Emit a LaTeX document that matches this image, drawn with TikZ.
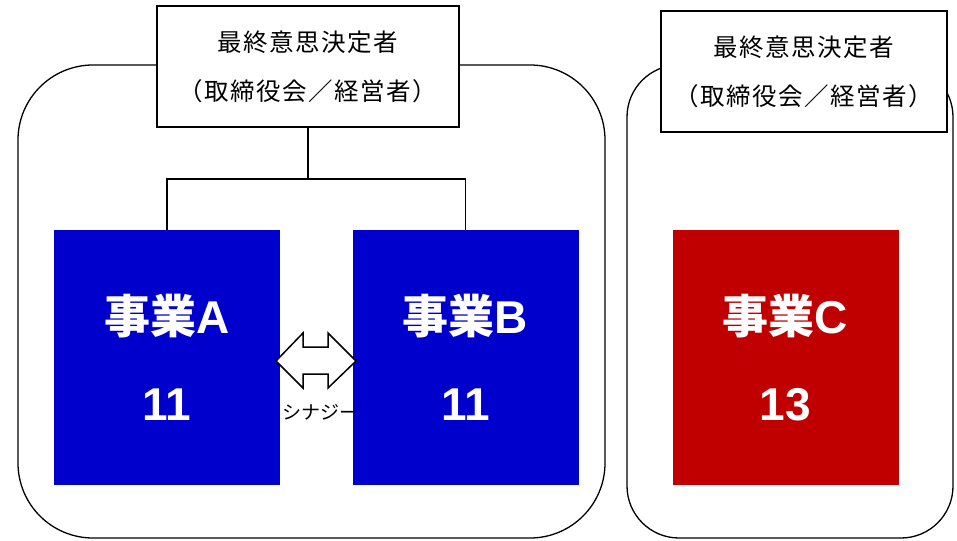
\documentclass[tikz,border=0pt]{standalone}
\usepackage{fontspec}
\setmainfont{Liberation Sans}
\newfontfamily\cjk{Noto Sans CJK JP}
\newfontfamily\cjkls[LetterSpace=6]{Noto Sans CJK JP}
\definecolor{bizblue}{RGB}{0,0,204}
\definecolor{bizred}{RGB}{192,0,0}
\tikzset{
  group/.style={draw=black, line width=1.3pt},
  topbox/.style={draw=black, fill=white, line width=1.3pt, minimum width=302pt, minimum height=121pt, inner sep=0pt, align=center, font=\fontsize{24.5}{49}\selectfont\cjkls},
  biz/.style={draw=none, minimum width=226pt, minimum height=255pt, inner sep=0pt, align=center, text=white, font=\fontsize{46}{87}\selectfont\bfseries},
  link/.style={draw=black, line width=1.3pt},
  synergy/.style={draw=black, fill=white, line width=1.5pt, line join=miter}
}
\begin{document}
\begin{tikzpicture}[x=1pt,y=-1pt]
\useasboundingbox (0,0) rectangle (957,540);
% group outlines
\draw[group, rounded corners=75pt] (18,65) rectangle (605,538);
\draw[group, rounded corners=52pt] (627,65) rectangle (953,538);
% decision makers
\node[topbox] (dmA) at (308,66.5) {最終意思決定者\\（取締役会／経営者）};
\node[topbox, minimum width=286pt] (dmC) at (804,71.5) {最終意思決定者\\（取締役会／経営者）};
% businesses
\node[biz, fill=bizblue] (bizA) at (167,357.5) {{\cjk 事業}A\\11};
\node[biz, fill=bizblue] (bizB) at (465.5,357.5) {{\cjk 事業}B\\11};
\node[biz, fill=bizred] (bizC) at (785.5,357.5) {{\cjk 事業}C\\13};
% connectors
\coordinate (j) at (308,179);
\draw[link] (dmA.south) -- (j);
\draw[link] (bizA.north) |- (j) -| (bizB.north);
% synergy double arrow
\draw[synergy] (276,361) -- (303,333) -- (303,347) -- (328,347) -- (328,333) -- (356,361)
  -- (328,388) -- (328,374) -- (303,374) -- (303,388) -- cycle;
\node[font=\fontsize{19}{19}\selectfont\cjk, inner sep=0pt] (syn) at (320,412) {シナジー};
\end{tikzpicture}
\end{document}
